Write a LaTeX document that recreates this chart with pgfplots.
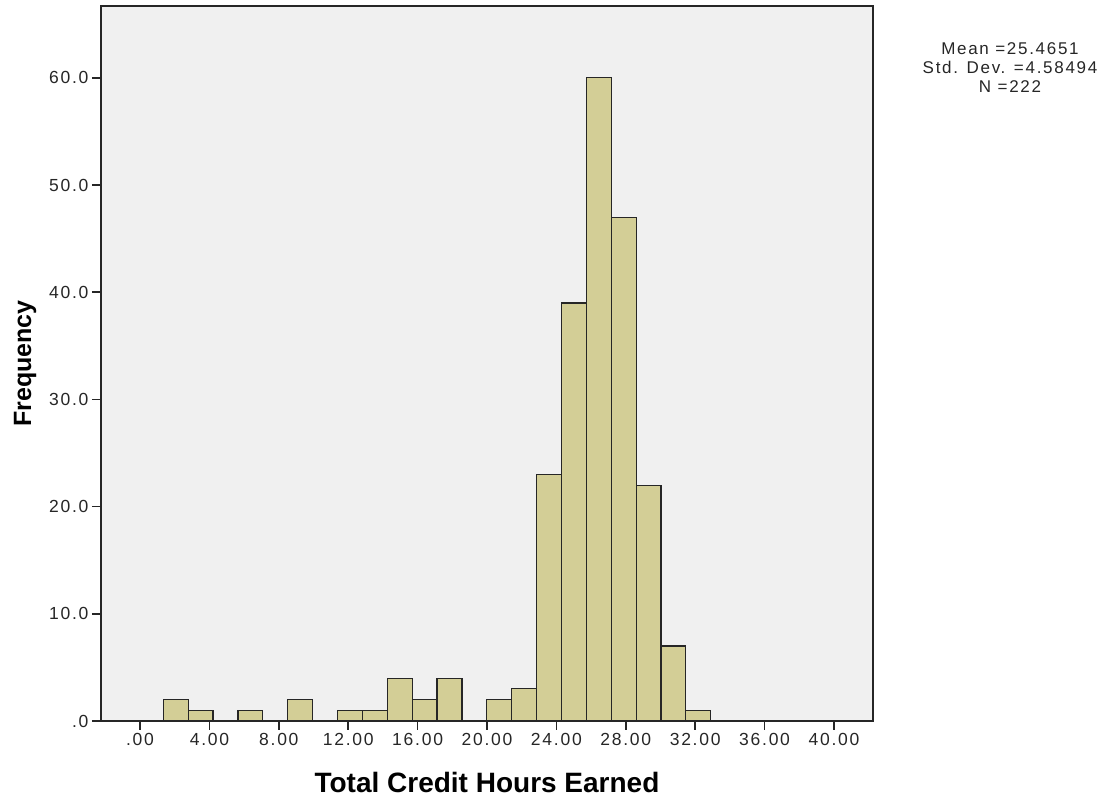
\documentclass[border=0pt]{standalone}
\usepackage{pgfplots}
\pgfplotsset{compat=1.18}
\usepackage{fontspec}
\setmainfont{Liberation Sans}
\newfontfamily\tickfont[LetterSpace=10]{Liberation Sans}
\definecolor{barfill}{RGB}{211,206,150}
\definecolor{bgc}{RGB}{240,240,240}
\begin{document}
\begin{tikzpicture}
\begin{axis}[
 scale only axis, width=772pt, height=715pt,
 xmin=-2.25, xmax=42.25, ymin=0, ymax=66.7,
 axis background/.style={fill=bgc},
 axis line style={line width=1.4pt, black!85},
 xtick={0,4,...,40},
 xticklabels={.00,4.00,8.00,12.00,16.00,20.00,24.00,28.00,32.00,36.00,40.00},
 ytick={0,10,...,60},
 yticklabels={.0,10.0,20.0,30.0,40.0,50.0,60.0},
 tick align=outside, xtick pos=lower, ytick pos=left,
 major tick length=9pt,
 tick style={line width=1.6pt, black!85},
 ticklabel style={font=\tickfont\fontsize{17.5}{20}\selectfont, text=black!85},
 xlabel={Total Credit Hours Earned}, ylabel={Frequency},
 xlabel style={font=\bfseries\fontsize{28}{32}\selectfont, at={(axis description cs:0.5,-0.1007)}, anchor=base},
 ylabel style={font=\bfseries\fontsize{25}{30}\selectfont, at={(axis description cs:-0.0984,0.5)}, anchor=center},
]
\addplot[ybar interval, fill=barfill, draw=black!85, line width=1.2pt] coordinates {
(1.34,2) (2.7745,1) (4.209,0) (5.6435,1) (7.078,0) (8.5125,2) (9.947,0)
(11.3815,1) (12.816,1) (14.2505,4) (15.685,2) (17.1195,4) (18.554,0)
(19.9885,2) (21.423,3) (22.8575,23) (24.292,39) (25.7265,60) (27.161,47)
(28.5955,22) (30.03,7) (31.4645,1) (32.899,1)
};
\coordinate (bl) at (rel axis cs:0,0);
\coordinate (tr) at (rel axis cs:1,1);
\end{axis}
\node[align=center, font=\tickfont\fontsize{17}{18.7}\selectfont, text=black!85, xshift=137pt, yshift=-61.5pt] at (tr) {Mean =25.4651\\Std. Dev. =4.58494\\N =222};
\pgfresetboundingbox
\path[use as bounding box] ([shift={(-101pt,-78pt)}]bl) rectangle ([shift={(239pt,6pt)}]tr);
\end{tikzpicture}
\end{document}
